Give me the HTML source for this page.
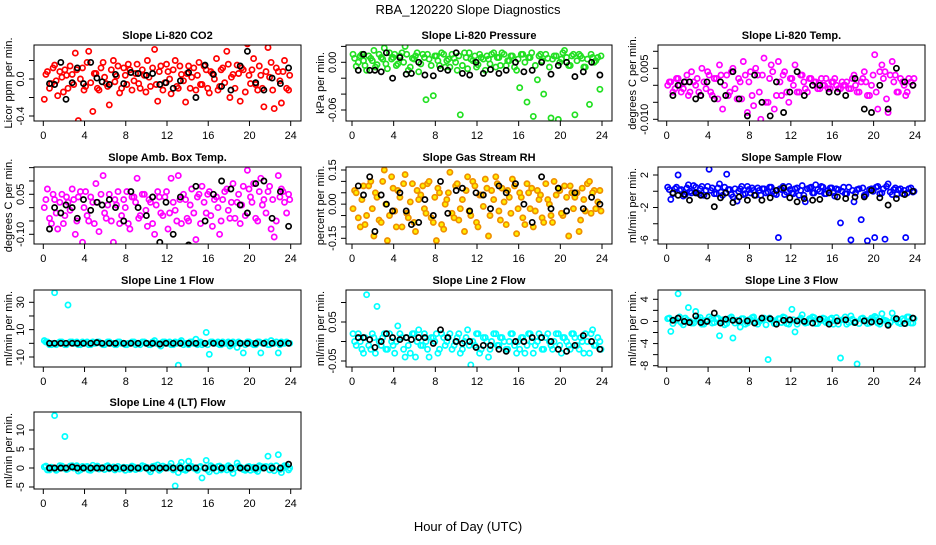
<!DOCTYPE html>
<html><head><meta charset="utf-8"><style>
html,body{margin:0;padding:0;background:#fff}
svg text{font-family:"Liberation Sans",sans-serif}
</style></head><body>
<svg id="chart" width="936" height="540" viewBox="0 0 936 540" xmlns="http://www.w3.org/2000/svg">
<rect x="0" y="0" width="936" height="540" fill="#fff"/>
<text x="468" y="14" text-anchor="middle" font-size="13">RBA_120220  Slope Diagnostics</text>
<text x="468" y="531" text-anchor="middle" font-size="13">Hour of Day (UTC)</text>
</svg>
<script>
const xTicks=[0,4,8,12,16,20,24];
const hours=[0.1,0.4,0.8,1.1,1.4,1.8,2.1,2.4,2.8,3.1,3.4,3.8,4.1,4.4,4.8,5.1,5.4,5.8,6.1,6.4,6.8,7.1,7.4,7.8,8.1,8.4,8.8,9.1,9.4,9.8,10.1,10.4,10.8,11.1,11.4,11.8,12.1,12.4,12.8,13.1,13.4,13.8,14.1,14.4,14.8,15.1,15.4,15.8,16.1,16.4,16.8,17.1,17.4,17.8,18.1,18.4,18.8,19.1,19.4,19.8,20.1,20.4,20.8,21.1,21.4,21.8,22.1,22.4,22.8,23.1,23.4,23.8];
const hours2=[0.25,0.6,0.95,1.25,1.6,1.95,2.25,2.6,2.95,3.25,3.6,3.95,4.25,4.6,4.95,5.25,5.6,5.95,6.25,6.6,6.95,7.25,7.6,7.95,8.25,8.6,8.95,9.25,9.6,9.95,10.25,10.6,10.95,11.25,11.6,11.95,12.25,12.6,12.95,13.25,13.6,13.95,14.25,14.6,14.95,15.25,15.6,15.95,16.25,16.6,16.95,17.25,17.6,17.95,18.25,18.6,18.95,19.25,19.6,19.95,20.25,20.6,20.95,21.25,21.6,21.95,22.25,22.6,22.95,23.25,23.6,23.9];
const hoursBlack=[0.6,1.1,1.7,2.2,2.8,3.3,3.9,4.6,5.2,5.7,6.4,7.0,7.8,8.5,9.2,10.0,10.6,11.3,11.9,12.6,13.3,14.1,14.8,15.7,16.5,17.3,18.2,19.1,19.8,20.6,21.4,22.2,23.0,23.8];

const co2Vals=[-0.22,0.08,-0.05,0.15,-0.18,0.02,0.1,-0.1,0.05,0.28,-0.45,0.12,-0.08,0.3,-0.35,0.06,-0.12,0.18,-0.05,-0.28,0.2,0.03,-0.15,0.12,-0.06,0.1,-0.02,0.16,-0.1,0.04,0.2,-0.08,0.32,-0.24,0.14,-0.04,0.08,-0.16,0.2,-0.1,0.05,-0.25,0.14,0.02,-0.12,0.18,-0.06,0.1,-0.15,0.06,0.22,-0.08,0.12,0.3,-0.2,0.05,0.15,-0.24,0.1,0.38,-0.05,0.22,-0.12,0.04,-0.3,0.34,0.18,-0.32,0.08,-0.26,0.2,-0.12];
const co2Vals2=[0.05,-0.1,0.12,-0.02,0.08,-0.14,0.04,0.14,-0.06,0.1,0.0,-0.12,0.18,-0.04,0.06,-0.1,0.12,0.02,-0.08,0.1,-0.03,0.14,-0.1,0.04,0.16,-0.12,0.06,-0.05,0.1,-0.14,0.02,0.12,-0.06,0.08,-0.12,0.16,0.0,0.1,-0.08,0.14,-0.02,0.06,-0.1,0.12,0.04,-0.06,0.14,-0.1,0.08,0.0,-0.12,0.1,-0.04,0.16,0.02,-0.1,0.06,0.12,-0.14,0.04,0.1,-0.06,0.14,-0.1,0.08,0.02,-0.12,0.12,-0.02,0.08,-0.1,0.04];
const co2Black=[-0.05,-0.06,0.18,-0.22,-0.04,0.12,-0.05,0.18,0.01,-0.03,-0.06,0.05,-0.05,0.07,0.06,0.04,0.06,-0.06,-0.04,-0.1,-0.02,0.07,-0.2,0.15,0.05,-0.08,-0.12,0.14,0.3,-0.04,-0.12,0.01,-0.05,0.12];
const presVals=[0.01,-0.005,0.008,0.002,-0.01,0.005,0.015,-0.003,0.006,0.018,-0.008,0.004,0.01,-0.002,0.012,0.02,-0.01,0.005,0.008,-0.012,0.01,-0.047,0.004,-0.042,0.008,-0.004,0.01,0.002,-0.006,0.005,-0.01,-0.066,0.012,-0.008,0.004,0.008,-0.003,0.006,-0.01,0.004,0.01,-0.006,0.006,0.012,-0.004,0.002,0.008,-0.01,-0.032,0.01,-0.05,0.006,-0.068,-0.022,0.01,-0.04,0.005,-0.07,0.008,-0.072,0.004,0.015,-0.004,0.008,-0.066,0.01,0.005,-0.006,-0.053,0.006,0.002,-0.034];
const presVals2=[0.005,0.0,0.01,-0.004,0.008,0.002,-0.006,0.01,0.004,-0.002,0.012,0.006,-0.004,0.008,0.0,0.01,-0.006,0.004,0.012,-0.002,0.006,0.01,-0.004,0.008,0.002,0.012,-0.006,0.004,0.01,0.0,0.008,-0.004,0.006,0.012,0.002,-0.006,0.01,0.004,0.008,-0.002,0.012,0.006,-0.004,0.01,0.002,0.008,-0.006,0.004,0.01,0.0,0.006,0.012,-0.004,0.008,0.002,0.01,-0.006,0.004,0.008,0.0,0.012,0.006,-0.004,0.01,0.002,0.008,-0.006,0.004,0.01,0.0,0.006,0.008];
const presBlack=[-0.01,0.01,-0.01,-0.01,-0.012,0.012,-0.02,0.006,-0.015,-0.014,0.0,-0.016,-0.017,-0.008,-0.01,0.012,-0.014,-0.016,0.0,-0.014,-0.009,-0.014,-0.01,0.0,-0.012,-0.01,0.0,-0.015,-0.004,0.0,-0.018,-0.012,0.0,-0.016];
const tempVals=[0.0,0.001,-0.001,0.002,-0.002,0.001,-0.003,0.004,0.0,-0.002,0.005,-0.001,0.003,-0.003,0.002,0.006,-0.007,0.003,-0.002,0.005,-0.004,0.001,0.007,-0.008,0.004,-0.006,0.003,-0.01,0.008,-0.005,0.006,-0.007,0.007,-0.003,0.004,-0.005,0.002,0.006,-0.002,0.003,-0.001,0.002,0.0,0.001,-0.001,0.0,0.002,-0.001,0.001,0.0,-0.001,0.0,0.001,-0.001,0.003,-0.002,0.001,0.004,-0.003,0.0,0.009,-0.007,0.006,0.004,-0.008,0.007,0.003,-0.002,0.001,-0.003,0.002,0.0];
const tempVals2=[0.001,-0.002,0.002,0.0,-0.001,0.003,-0.002,0.001,0.002,-0.003,0.001,0.004,-0.002,0.002,-0.004,0.003,0.0,-0.003,0.004,-0.001,0.002,-0.004,0.003,0.001,-0.003,0.005,-0.002,0.003,-0.005,0.002,0.004,-0.003,0.001,0.003,-0.002,0.002,0.0,-0.002,0.003,0.001,-0.002,0.002,0.001,-0.001,0.002,0.0,-0.001,0.001,0.002,-0.001,0.001,0.0,-0.001,0.002,0.0,-0.002,0.002,0.001,-0.003,0.003,-0.002,0.004,0.002,-0.004,0.003,0.001,-0.002,0.002,0.0,-0.002,0.001,0.002];
const tempBlack=[-0.003,0.0,0.001,0.001,-0.004,-0.003,0.001,-0.004,0.001,-0.003,0.004,-0.004,-0.009,0.003,-0.005,-0.009,0.001,-0.008,-0.002,0.004,-0.003,0.0,0.0,-0.002,-0.002,-0.003,0.002,-0.007,-0.008,0.0,-0.007,0.005,0.001,0.0];
const ambVals=[0.0,0.07,-0.06,0.03,-0.08,0.05,-0.03,0.02,0.07,-0.1,0.04,-0.13,0.06,-0.05,0.02,0.09,-0.09,0.12,-0.04,0.05,-0.13,0.01,-0.06,0.03,0.06,-0.08,0.04,0.11,-0.03,0.05,-0.07,0.02,-0.1,0.06,-0.02,0.04,-0.08,0.11,-0.01,0.12,-0.06,0.03,-0.05,0.07,-0.12,0.05,0.08,-0.02,0.06,-0.07,0.04,-0.1,0.03,0.07,-0.04,0.09,0.02,-0.06,0.08,0.14,0.04,0.09,-0.05,0.11,0.03,0.06,-0.08,-0.11,0.12,0.07,0.02,0.05];
const ambVals2=[0.03,-0.04,0.05,-0.02,0.02,-0.06,0.04,-0.01,0.03,-0.05,0.06,0.0,-0.03,0.04,-0.06,0.02,0.05,-0.02,0.01,-0.05,0.03,0.06,-0.03,0.0,-0.06,0.04,0.02,-0.04,0.05,-0.01,0.03,-0.06,0.01,0.04,-0.03,0.06,-0.02,0.02,-0.05,0.03,0.05,-0.04,0.01,-0.02,0.04,-0.06,0.02,0.05,-0.03,0.03,0.0,-0.05,0.06,-0.01,0.02,-0.04,0.05,0.01,-0.03,0.07,0.02,-0.04,0.06,0.01,-0.02,0.08,0.03,-0.05,0.04,0.06,-0.02,0.03];
const ambBlack=[-0.08,0.0,-0.02,0.01,0.0,-0.04,0.03,-0.01,0.02,0.01,0.03,0.0,-0.05,0.06,0.0,-0.03,0.04,-0.13,0.02,-0.1,0.04,-0.14,0.08,-0.05,0.05,0.1,0.07,0.01,-0.02,0.09,0.1,-0.04,0.06,-0.07];
const rhVals=[-0.02,0.05,-0.1,0.08,-0.05,0.1,-0.14,0.03,-0.08,0.15,-0.16,0.12,-0.03,0.06,-0.1,0.13,-0.06,0.09,-0.12,0.02,0.08,-0.04,0.1,-0.08,-0.16,0.05,-0.11,0.02,0.14,-0.06,0.09,-0.02,-0.12,0.12,-0.05,0.08,-0.1,0.04,0.11,-0.14,0.06,0.12,-0.03,0.07,-0.09,0.03,0.11,-0.13,0.05,-0.06,0.09,-0.02,-0.1,0.06,0.04,-0.08,0.02,-0.05,0.1,0.07,-0.04,0.08,-0.14,0.05,0.03,-0.12,0.07,-0.03,0.1,0.05,-0.02,0.06];
const rhVals2=[0.06,-0.06,0.02,-0.09,0.08,-0.02,0.05,-0.07,0.1,0.0,-0.05,0.07,-0.1,0.03,0.09,-0.04,0.01,-0.08,0.06,0.04,-0.02,0.09,-0.06,0.03,0.07,-0.09,0.0,0.05,-0.04,0.08,-0.07,0.02,0.06,-0.03,0.1,-0.08,0.04,-0.01,0.07,-0.05,0.02,0.09,-0.07,0.01,0.06,-0.04,0.08,-0.02,0.03,-0.09,0.05,0.07,-0.03,0.02,-0.06,0.09,0.0,-0.08,0.04,0.06,-0.05,0.03,0.08,-0.02,0.05,-0.07,0.02,0.09,-0.04,0.06,0.01,-0.03];
const rhBlack=[0.08,0.04,0.12,-0.12,0.04,0.0,-0.03,0.05,-0.03,-0.09,-0.08,0.02,-0.05,0.1,-0.04,0.06,0.07,-0.03,0.05,0.04,-0.02,0.08,0.05,0.09,0.0,-0.08,0.12,-0.02,0.07,-0.03,0.05,-0.02,0.03,0.0];
const sampleVals=[0.5,-1.0,0.3,2.0,0.2,-0.4,0.8,-0.2,0.5,-0.3,0.6,0.1,2.7,0.4,-0.3,0.9,-0.5,2.1,0.2,-0.7,-1.2,0.3,-0.4,0.6,-0.2,0.1,0.4,-0.5,0.3,-0.1,0.5,-0.3,-5.7,0.2,-0.4,0.6,-0.2,0.3,-0.5,0.7,-1.3,0.4,-0.2,0.8,0.0,0.5,-0.3,0.4,-0.2,0.3,-3.9,0.5,-0.3,-6.0,-1.3,0.2,-3.5,-0.5,-6.1,0.3,-5.7,0.6,-0.2,-5.9,0.9,-0.4,0.4,0.2,-0.3,-5.7,0.3,-0.1];
const sampleVals2=[0.2,-0.3,0.5,0.1,-0.6,0.4,0.0,0.7,-0.2,0.3,-0.5,0.6,0.1,-0.3,0.4,-0.1,0.5,0.2,-0.4,0.3,0.0,0.6,-0.3,0.2,0.4,-0.5,0.1,0.3,-0.2,0.5,0.0,-0.4,0.3,0.6,-0.1,0.2,-0.3,0.4,0.1,-0.5,0.3,0.5,-0.2,0.2,0.6,-0.3,0.1,0.4,-0.6,0.2,0.0,-0.3,0.5,0.1,-0.2,0.3,0.4,-0.4,0.2,0.0,0.5,-0.3,0.3,0.6,-0.1,0.2,-0.4,0.3,0.1,-0.2,0.4,0.0];
const sampleBlack=[-0.2,-0.5,-0.4,-1.1,-0.2,-0.5,-0.6,-1.9,-0.8,-0.2,-1.4,-0.7,-1.1,-0.5,-1.1,-0.8,0.1,0.4,-0.8,-1.3,-0.9,-1.1,-1.0,-0.2,-0.7,-0.9,-0.7,-0.7,0.1,-0.8,-1.7,-0.9,-0.4,0.0];
const line1Vals=[2,1,-1,37,0,1,-1,28,1,0,-1,1,0,-1,1,0,1,-1,0,1,0,-1,1,0,-1,0,1,0,-1,1,0,-1,2,0,-2,1,0,-1,1,-16,2,0,-1,1,3,0,-1,8,-8,1,0,-1,1,0,-2,1,-3,0,-7,1,0,-1,1,-7,0,-1,2,0,-7,1,0,0];
const line1Vals2=[1,-1,0,-1,1,0,-1,1,0,1,-1,0,1,-1,0,1,0,-1,1,0,-1,1,0,-1,0,1,-1,0,1,0,-1,1,0,-1,1,0,1,-1,0,1,-1,0,1,0,-1,1,0,-1,1,0,1,-1,0,1,-1,0,1,0,-1,1,0,-1,1,0,1,-1,0,1,-1,0,1,0];
const line1Black=[0,0,0,0,0,0,0,0,0.5,0,0,0,0,0,0,0,0,-0.5,0,0,0,0,0,0,0,0,0,0,0,0,0,0,0,0];
const line2Vals=[0.02,-0.01,0.0,-0.03,0.12,-0.02,0.01,0.09,-0.01,0.02,-0.02,0.0,-0.03,0.04,0.01,-0.04,-0.01,0.02,-0.04,0.03,-0.01,0.0,-0.04,0.01,0.02,-0.02,0.01,0.0,0.02,-0.01,0.01,-0.03,0.0,0.03,-0.06,-0.01,0.02,-0.02,0.01,-0.04,0.0,0.02,-0.01,0.01,-0.02,0.0,0.02,-0.03,-0.02,0.01,-0.01,0.02,-0.03,0.0,0.01,-0.02,0.02,-0.01,0.0,0.02,-0.03,0.01,-0.01,0.02,0.01,-0.02,0.0,0.02,-0.03,0.03,-0.01,0.0];
const line2Vals2=[0.0,0.02,-0.02,0.01,-0.01,0.02,-0.03,0.0,0.01,-0.02,0.02,-0.01,0.0,0.02,-0.02,0.01,-0.03,0.02,0.0,-0.01,0.02,-0.02,0.01,0.0,-0.03,0.02,-0.01,0.01,-0.02,0.0,0.02,-0.02,0.01,-0.01,0.0,0.02,-0.03,0.01,0.0,-0.02,0.02,-0.01,0.01,0.0,-0.02,0.02,-0.01,0.0,0.01,-0.03,0.02,0.0,-0.01,0.02,-0.02,0.01,0.0,-0.02,0.02,-0.01,0.01,0.0,-0.02,0.02,-0.01,0.01,-0.03,0.0,0.02,-0.01,0.01,-0.02];
const line2Black=[0.01,0.01,0.005,-0.015,0.0,0.02,0.01,0.005,0.01,0.005,0.01,0.01,-0.005,0.03,0.01,0.0,-0.005,0.0,-0.015,-0.01,-0.01,-0.02,-0.025,0.0,0.0,0.01,0.01,0.0,-0.02,-0.025,-0.01,0.015,0.0,-0.02];
const line3Vals=[0.5,-1.8,0.3,5.0,-0.2,0.6,2.5,-0.3,1.8,0.4,-0.5,0.2,0.8,-0.3,0.5,-2.6,0.3,-0.4,0.6,-3.0,0.2,-1.0,0.5,-0.3,0.4,0.8,-0.5,0.2,0.6,-6.9,0.3,-0.4,0.5,-0.2,0.7,-0.5,2.2,-1.9,0.3,1.2,-0.3,0.5,0.8,-0.4,0.3,0.6,-0.2,0.4,-0.5,0.7,-6.6,0.3,-0.5,1.0,-0.2,-7.7,0.5,0.2,-0.4,0.6,0.9,-0.3,1.4,0.2,-0.5,1.5,0.3,-0.2,0.5,-0.4,0.8,-0.3];
const line3Vals2=[0.6,-0.4,0.2,0.8,-0.6,0.3,0.0,-0.3,0.5,0.7,-0.5,0.2,0.4,-0.2,0.6,0.0,-0.6,0.3,0.8,-0.3,0.1,0.5,-0.5,0.3,0.7,-0.2,0.0,0.4,-0.6,0.6,0.2,-0.3,0.5,0.8,-0.4,0.1,0.3,-0.5,0.6,0.0,-0.2,0.4,0.7,-0.4,0.2,0.5,-0.3,0.6,0.1,-0.5,0.3,0.8,-0.2,0.4,0.0,-0.4,0.6,0.2,-0.3,0.5,0.7,-0.5,0.3,0.1,-0.2,0.6,0.4,-0.4,0.2,0.8,-0.3,0.5];
const line3Black=[0.2,0.6,0.0,-0.2,1.0,-0.2,0.0,1.5,-0.3,0.4,0.2,0.1,0.1,-0.3,0.6,0.5,-0.5,0.2,0.3,0.1,0.0,-0.3,0.4,-0.5,0.1,0.3,-0.2,0.1,-0.1,0.0,-0.7,0.5,-0.4,0.6];
const line4Vals=[0.3,-0.5,0.2,13.8,-0.3,0.5,8.3,-0.2,0.6,0.1,-0.8,0.4,0.3,-0.5,0.7,0.2,-0.3,0.1,0.4,-0.2,0.3,0.0,-0.3,0.2,0.1,-0.4,0.3,0.0,-0.2,0.4,0.1,-1.0,0.5,0.8,-0.3,0.2,0.0,1.2,-4.7,-1.2,1.5,-0.6,1.8,0.4,-0.3,0.2,-2.6,2.0,-1.0,0.3,-0.8,0.5,0.1,-0.5,0.3,-1.4,1.3,0.2,-0.4,0.3,-0.6,0.2,-0.9,0.4,0.3,3.1,0.5,-0.7,3.5,-1.2,0.6,-0.5];
const line4Vals2=[0.5,-0.5,0,-0.6,0.6,0,-0.4,0.5,0,0.6,-0.5,0,0.4,-0.6,0,0.5,0,-0.4,0.6,0,-0.5,0.4,0,-0.6,0,0.5,-0.4,0,0.6,0,-0.5,0.4,0,-0.6,0.5,0,0.4,-0.5,0,0.6,-0.4,0,0.5,0,-0.6,0.4,0,-0.5,0.6,0,0.4,-0.5,0,0.6,-0.4,0,0.5,0,-0.6,0.4,0,-0.5,0.6,0,0.4,-0.5,0,0.6,-0.4,0,0.5,0];
const line4Black=[0,0,0,0,0.3,0,0,0,0,0,0,0,0,0,0,0,0,0,0,0,0,0,0,0,0,0,0,0,0,0,0,0,0,1.0];

const co2Ticks=[-0.4,-0.2,0.0,0.2], co2Labels=["-0.4","","0.0",""];
const presTicks=[-0.06,-0.04,-0.02,0.0,0.02], presLabels=["-0.06","","","0.00",""];
const tempTicks=[-0.01,-0.005,0,0.005,0.01], tempLabels=["-0.010","","","0.005",""];
const ambTicks=[-0.1,-0.05,0,0.05,0.1,0.15], ambLabels=["-0.10","","","0.05","",""];
const rhTicks=[-0.15,-0.1,-0.05,0,0.05,0.1,0.15], rhLabels=["-0.15","","","0.00","","","0.15"];
const sampleTicks=[-6,-4,-2,0,2], sampleLabels=["-6","","-2","","2"];
const line1Ticks=[-10,0,10,20,30], line1Labels=["-10","","10","","30"];
const line2Ticks=[-0.05,0,0.05,0.1], line2Labels=["-0.05","","0.05",""];
const line3Ticks=[-8,-6,-4,-2,0,2,4], line3Labels=["-8","","-4","","0","","4"];
const line4Ticks=[-5,0,5,10], line4Labels=["-5","0","5","10"];

const NS="http://www.w3.org/2000/svg";
const svg=document.getElementById('chart');
function mk(tag,attrs,parent){const e=document.createElementNS(NS,tag);for(const k in attrs)e.setAttribute(k,attrs[k]);(parent||svg).appendChild(e);return e;}

const cols=[{l:34,r:301,x0:43.3,x1:290.7},{l:346,r:612,x0:352,x1:602},{l:658,r:925,x0:666.7,x1:915}];
const rows=[{t:45,b:121},{t:167,b:244},{t:290,b:367},{t:412,b:489}];

const panels=[
 {name:"co2",title:"Slope Li-820 CO2",ylab:"Licor ppm per min.",c:0,r:0,v0:0,p0:79,v1:-0.4,p1:116,ticks:co2Ticks,labels:co2Labels,col:"#ff0000",vals:co2Vals,vals2:co2Vals2,blk:co2Black},
 {name:"pressure",title:"Slope Li-820 Pressure",ylab:"kPa per min.",c:1,r:0,v0:0,p0:62.3,v1:-0.06,p1:110,ticks:presTicks,labels:presLabels,col:"#22e022",vals:presVals,vals2:presVals2,blk:presBlack},
 {name:"temp",title:"Slope Li-820 Temp.",ylab:"degrees C per min.",c:2,r:0,v0:0.005,p0:68.3,v1:-0.01,p1:119.3,ticks:tempTicks,labels:tempLabels,col:"#ff00ff",vals:tempVals,vals2:tempVals2,blk:tempBlack},
 {name:"amb-box-temp",title:"Slope Amb. Box Temp.",ylab:"degrees C per min.",c:0,r:1,v0:0.05,p0:194.3,v1:-0.1,p1:234.3,ticks:ambTicks,labels:ambLabels,col:"#ff00ff",vals:ambVals,vals2:ambVals2,blk:ambBlack},
 {name:"gas-stream-rh",title:"Slope Gas Stream RH",ylab:"percent per min.",c:1,r:1,v0:0.15,p0:170,v1:-0.15,p1:238.3,ticks:rhTicks,labels:rhLabels,col:"#f09000",fill:"#ffee00",vals:rhVals,vals2:rhVals2,blk:rhBlack},
 {name:"sample-flow",title:"Slope Sample Flow",ylab:"ml/min per min.",c:2,r:1,v0:2,p0:175,v1:-6,p1:240,ticks:sampleTicks,labels:sampleLabels,col:"#0000ff",vals:sampleVals,vals2:sampleVals2,blk:sampleBlack},
 {name:"line1-flow",title:"Slope Line 1 Flow",ylab:"ml/min per min.",c:0,r:2,v0:30,p0:302.3,v1:-10,p1:357,ticks:line1Ticks,labels:line1Labels,col:"#00ffff",vals:line1Vals,vals2:line1Vals2,blk:line1Black},
 {name:"line2-flow",title:"Slope Line 2 Flow",ylab:"ml/min per min.",c:1,r:2,v0:0.05,p0:322,v1:-0.05,p1:361,ticks:line2Ticks,labels:line2Labels,col:"#00ffff",vals:line2Vals,vals2:line2Vals2,blk:line2Black},
 {name:"line3-flow",title:"Slope Line 3 Flow",ylab:"ml/min per min.",c:2,r:2,v0:4,p0:299.3,v1:-8,p1:365.7,ticks:line3Ticks,labels:line3Labels,col:"#00ffff",vals:line3Vals,vals2:line3Vals2,blk:line3Black},
 {name:"line4-flow",title:"Slope Line 4 (LT) Flow",ylab:"ml/min per min.",c:0,r:3,v0:10,p0:430,v1:-5,p1:487,ticks:line4Ticks,labels:line4Labels,col:"#00ffff",vals:line4Vals,vals2:line4Vals2,blk:line4Black}
];

panels.forEach(p=>{
 const C=cols[p.c],R=rows[p.r];
 const xs=h=>C.x0+(h/24)*(C.x1-C.x0);
 const ys=v=>p.p0+(v-p.v0)*(p.p1-p.p0)/(p.v1-p.v0);
 const g=mk('g',{});
 
 
 const cp=mk('clipPath',{id:'clip-'+p.name},g);
 mk('rect',{x:C.l,y:R.t,width:C.r-C.l,height:R.b-R.t},cp);
 const pts=mk('g',{'clip-path':'url(#clip-'+p.name+')'},g);
 
 
 const n2=Math.min(hours2.length,p.vals2.length);
 for(let i=0;i<n2;i++){
  const c=mk('circle',{cx:xs(hours2[i]).toFixed(1),cy:ys(p.vals2[i]).toFixed(1),r:2.6,fill:p.fill||'none',stroke:p.col,'stroke-width':1.7},pts);
  
  
 }
 const n=Math.min(hours.length,p.vals.length);
 for(let i=0;i<n;i++){
  const c=mk('circle',{cx:xs(hours[i]).toFixed(1),cy:ys(p.vals[i]).toFixed(1),r:2.6,fill:p.fill||'none',stroke:p.col,'stroke-width':1.7},pts);
  
  
 }
 const m=Math.min(hoursBlack.length,p.blk.length);
 for(let i=0;i<m;i++){
  const c=mk('circle',{cx:xs(hoursBlack[i]).toFixed(1),cy:ys(p.blk[i]).toFixed(1),r:2.6,fill:'none',stroke:'#000','stroke-width':1.7},pts);
  
  
 }
 const box=mk('rect',{x:C.l,y:R.t,width:C.r-C.l,height:R.b-R.t,fill:'none',stroke:'#000','stroke-width':1},g);
 
 
 const t=mk('text',{x:(C.l+C.r)/2,y:R.t-6,'text-anchor':'middle','font-size':11,'font-weight':'bold'},g);
 t.textContent=p.title;
 
 
 xTicks.forEach(h=>{
  mk('line',{x1:xs(h),x2:xs(h),y1:R.b,y2:R.b+5,stroke:'#000'},g);
  const lt=mk('text',{x:xs(h),y:R.b+18,'text-anchor':'middle','font-size':11},g);
  lt.textContent=h;
  
  
 });
 p.ticks.forEach((v,i)=>{
  const y=ys(v);
  mk('line',{x1:C.l-5,x2:C.l,y1:y,y2:y,stroke:'#000'},g);
  if(p.labels[i]){
   const lt=mk('text',{x:0,y:0,'text-anchor':'middle','font-size':11,transform:`translate(${C.l-10},${y}) rotate(-90)`},g);
   lt.textContent=p.labels[i];
   
   
  }
 });
 const yl=mk('text',{x:0,y:0,'text-anchor':'middle','font-size':11,transform:`translate(${C.l-22},${(R.t+R.b)/2}) rotate(-90)`},g);
 yl.textContent=p.ylab;
 
 
});
</script>
</body></html>
